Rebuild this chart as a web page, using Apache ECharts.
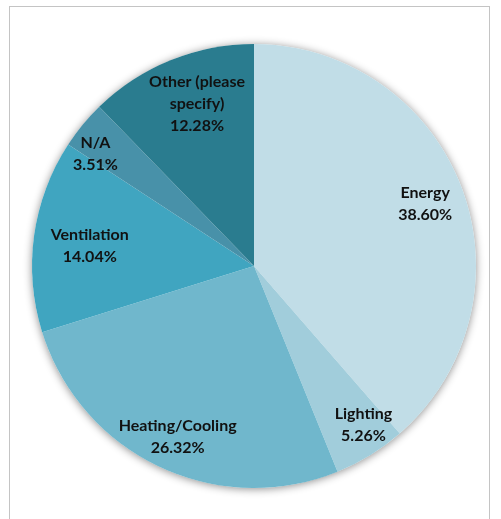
<!DOCTYPE html>
<html>
<head>
<meta charset="utf-8">
<script src="https://cdn.jsdelivr.net/npm/echarts@6/dist/echarts.min.js"></script>
<style>
html,body{margin:0;padding:0;background:#fff;}
#frame{position:absolute;left:9px;top:6px;width:481px;height:520px;border:1px solid #c4c4c4;border-bottom:none;box-sizing:border-box;}
#chart{position:absolute;left:0;top:0;width:501px;height:519px;}
</style>
</head>
<body>
<div id="frame"></div>
<div id="chart"></div>
<script>
const categories = ['Energy', 'Lighting', 'Heating/Cooling', 'Ventilation', 'N/A', 'Other (please\nspecify)'];
const values = [38.60, 5.26, 26.32, 14.04, 3.51, 12.28];
const colors = ['#c1dde7', '#a1cddb', '#70b7cc', '#40a5c0', '#4891a9', '#2a7c8f'];
// small per-label nudges (styling only), mimicking the original label placement
const labelNudges = [[-3, 3], [12, 0], [3, 3], [20, 5], [-15, 6], [13, 10]];

const chart = echarts.init(document.getElementById('chart'), null, {renderer: 'canvas'});
const center = [254, 266];
const R = 222;

const mainData = categories.map((c, i) => ({name: c, value: values[i], itemStyle: {color: colors[i]}}));
const labelData = categories.map((c, i) => ({name: c, value: values[i], label: {offset: labelNudges[i]}}));

chart.setOption({
  animation: false,
  series: [
    {
      type: 'pie', center: center, radius: R, silent: true, z: 1,
      label: {show: false}, labelLine: {show: false},
      itemStyle: {color: '#fff', shadowBlur: 8, shadowColor: 'rgba(0,0,0,0.45)', shadowOffsetX: 0, shadowOffsetY: 1},
      data: [{value: 1}]
    },
    {
      type: 'pie', center: center, radius: R, startAngle: 90, clockwise: true, z: 2,
      label: {show: false}, labelLine: {show: false},
      itemStyle: {borderWidth: 0},
      data: mainData
    },
    {
      type: 'pie', center: center, radius: [144, R], startAngle: 90, clockwise: true, z: 3, silent: true,
      itemStyle: {color: 'rgba(0,0,0,0)'},
      labelLine: {show: false},
      label: {
        show: true, position: 'inside',
        formatter: p => p.name + '\n' + p.value.toFixed(2) + '%',
        fontFamily: 'Lato, "Open Sans", sans-serif', fontWeight: 'bold', fontSize: 16,
        lineHeight: 22, color: '#111', align: 'center'
      },
      data: labelData
    }
  ]
});
</script>
</body>
</html>
